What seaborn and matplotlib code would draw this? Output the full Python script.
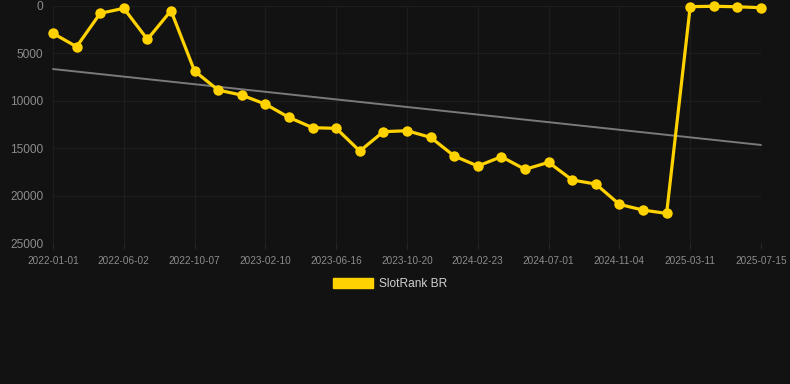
import numpy as np
import pandas as pd
import matplotlib
matplotlib.use("Agg")
import matplotlib.pyplot as plt
import matplotlib.patches as mpatches
import seaborn as sns

# ---- data ----
dates = ["2022-01-01", "2022-02-21", "2022-04-12", "2022-06-02", "2022-07-14",
         "2022-08-25", "2022-10-07", "2022-11-18", "2022-12-30", "2023-02-10",
         "2023-03-24", "2023-05-05", "2023-06-16", "2023-07-28", "2023-09-08",
         "2023-10-20", "2023-12-01", "2024-01-12", "2024-02-23", "2024-04-05",
         "2024-05-19", "2024-07-01", "2024-08-12", "2024-09-23", "2024-11-04",
         "2024-12-16", "2025-01-27", "2025-03-11", "2025-04-22", "2025-06-03",
         "2025-07-15"]
rank = [2880, 4290, 770, 245, 3515, 490, 6860, 8860, 9390, 10340,
        11740, 12820, 12890, 15280, 13240, 13140, 13840, 15800, 16860, 15880,
        17210, 16470, 18330, 18760, 20900, 21500, 21850, 70, 30, 80, 180]
trend_ends = [6640, 14640]
y_ticks = [0, 5000, 10000, 15000, 20000, 25000]
series_name = "SlotRank BR"

df = pd.DataFrame({"x": np.arange(len(dates)), "rank": rank})
trend_df = pd.DataFrame({"x": [0, len(dates) - 1], "rank": trend_ends})

sns.set_theme(style="dark")
plt.rcParams["font.family"] = ["Liberation Sans", "DejaVu Sans"]

BG = "#121212"
fig = plt.figure(figsize=(7.9, 3.84), dpi=100, facecolor=BG)
ax = fig.add_axes([53 / 790, 1 - 243.3 / 384, 708 / 790, 237.3 / 384])
ax.set_facecolor(BG)

sns.lineplot(data=trend_df, x="x", y="rank", ax=ax, color="#7a7a7a", linewidth=1.4)
sns.lineplot(data=df, x="x", y="rank", ax=ax, color="#FFD200", linewidth=2.3,
             marker="o", markersize=7.5, markeredgewidth=0, markeredgecolor="#FFD200")
for ln in ax.lines:
    ln.set_clip_on(False)

ax.set_xlim(0, len(dates) - 1)
ax.set_ylim(25000, 0)
ax.set_yticks(y_ticks)
ax.set_yticklabels([str(v) for v in y_ticks])
tick_pos = list(range(0, len(dates), 3))
ax.set_xticks(tick_pos)
ax.set_xticklabels([dates[i] for i in tick_pos])
ax.set_xlabel("")
ax.set_ylabel("")

ax.grid(True, color="#1d1d1d", linewidth=0.9)
ax.set_axisbelow(True)
for s in ax.spines.values():
    s.set_visible(False)
ax.tick_params(axis="y", colors="#8c8c8c", labelsize=8.6, length=0, pad=7)
ax.tick_params(axis="x", colors="#8c8c8c", labelsize=7.2, length=4, width=0.8,
               pad=5)
ax.tick_params(axis="x", bottom=True, color="#262626")

handle = mpatches.Patch(color="#FFD200", label=series_name)
leg = fig.legend(handles=[handle], loc="center", bbox_to_anchor=(390 / 790, 1 - 284 / 384),
                 frameon=False, fontsize=8.6, handlelength=3.3, handleheight=0.85,
                 handletextpad=0.5)
for t in leg.get_texts():
    t.set_color("#d0d0d0")

fig.savefig("out.png", dpi=100, facecolor=BG)
